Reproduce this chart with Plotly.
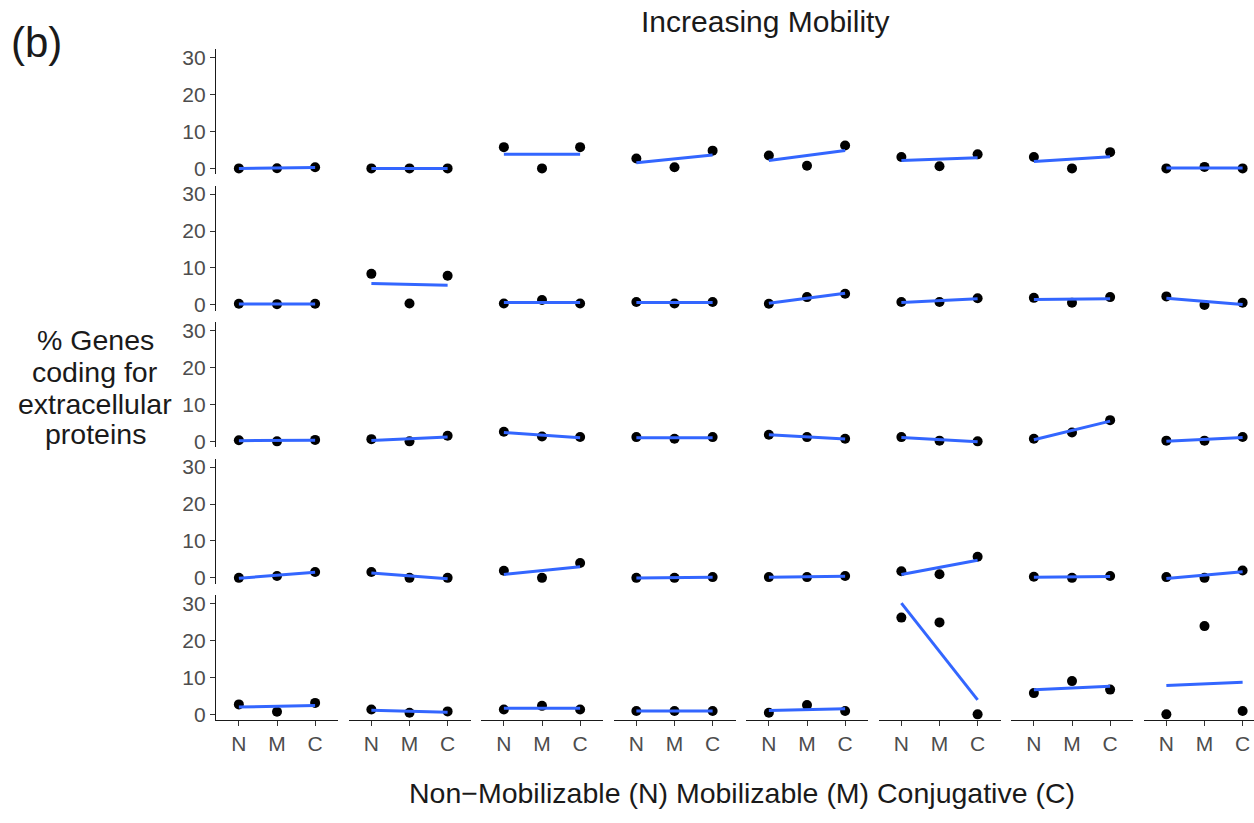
import numpy as np
import plotly.graph_objects as go

# Categories (mobility classes) on the x axis of every panel
categories = ["N", "M", "C"]
y_ticks = [0, 10, 20, 30]

# % genes coding for extracellular proteins: one [N, M, C] triple per panel, 8 panels per row
row1 = [[0.0, 0.05, 0.3], [0.0, 0.0, 0.0], [5.75, 0.0, 5.75], [2.7, 0.3, 4.8],
        [3.5, 0.7, 6.2], [3.1, 0.6, 3.8], [3.1, 0.0, 4.4], [0.0, 0.4, 0.0]]
row2 = [[0.3, 0.2, 0.3], [8.4, 0.35, 7.9], [0.35, 1.3, 0.35], [0.8, 0.35, 0.8],
        [0.3, 2.1, 3.0], [0.8, 0.8, 1.8], [1.9, 0.6, 2.1], [2.3, 0.0, 0.6]]
row3 = [[0.3, 0.0, 0.4], [0.6, 0.0, 1.5], [2.6, 1.3, 1.2], [1.15, 0.7, 1.15],
        [1.8, 1.15, 0.7], [1.15, 0.2, 0.0], [0.7, 2.4, 5.75], [0.2, 0.2, 1.2]]
row4 = [[0.0, 0.5, 1.6], [1.6, 0.0, 0.0], [1.9, 0.0, 4.0], [0.0, 0.0, 0.2],
        [0.2, 0.2, 0.5], [1.8, 1.0, 5.7], [0.3, 0.0, 0.5], [0.2, 0.0, 2.0]]
row5 = [[2.7, 0.7, 3.1], [1.3, 0.45, 0.8], [1.3, 2.3, 1.3], [0.9, 0.9, 0.9],
        [0.45, 2.5, 0.9], [26.2, 24.9, 0.0], [5.75, 9.0, 6.7], [0.0, 23.9, 0.9]]
rows = [row1, row2, row3, row4, row5]

y_title_lines = ["% Genes", "coding for", "extracellular", "proteins"]

W, H = 1254, 823
fig = go.Figure()

NR, NC = 5, 8
panel_left0, panel_step, panel_w = 216, 132.5, 122
panel_top0, row_step, panel_h = 47, 138, 126
x_per_unit = panel_w / 3.2
YR = [-1.55, 32.2]
FONT = "Liberation Sans"

layout = {}
k = 0
for r in range(NR):
    for c in range(NC):
        k += 1
        vals = rows[r][c]
        xs = [1, 2, 3]
        sfx = "" if k == 1 else str(k)
        # points
        fig.add_trace(go.Scatter(x=xs, y=vals, mode="markers",
                                 marker=dict(color="black", size=10),
                                 xaxis="x" + sfx, yaxis="y" + sfx,
                                 showlegend=False, hoverinfo="skip"))
        # linear fit (geom_smooth, method = lm)
        slope, icpt = np.polyfit(xs, vals, 1)
        xf = [1, 3]
        yf = [icpt + slope * v for v in xf]
        fig.add_trace(go.Scatter(x=xf, y=yf, mode="lines",
                                 line=dict(color="#3366FF", width=3),
                                 xaxis="x" + sfx, yaxis="y" + sfx,
                                 showlegend=False, hoverinfo="skip",
                                 cliponaxis=False))
        left = panel_left0 + panel_step * c
        right = left + panel_w
        xr = [0.4, 3.6]
        if right > W:
            xr = [0.4, 0.4 + (W - left) / x_per_unit]
            right = W
        top = panel_top0 + row_step * r
        bot = top + panel_h
        bottom_row = (r == NR - 1)
        first_col = (c == 0)
        layout["xaxis" + sfx] = dict(
            domain=[left / W, right / W], range=xr, anchor="y" + sfx,
            showgrid=False, zeroline=False,
            tickvals=[1, 2, 3], ticktext=categories,
            showticklabels=bottom_row, showline=bottom_row,
            ticks="outside" if bottom_row else "", ticklen=5, tickwidth=1.1,
            tickcolor="#333333", linecolor="#1a1a1a", linewidth=1.3,
            tickfont=dict(family=FONT, size=21, color="#4D4D4D"),
            fixedrange=True)
        layout["yaxis" + sfx] = dict(
            domain=[1 - bot / H, 1 - top / H], range=YR, anchor="x" + sfx,
            showgrid=False, zeroline=False,
            tickvals=y_ticks,
            showticklabels=first_col, showline=first_col,
            ticks="outside" if first_col else "", ticklen=5, tickwidth=1.1,
            tickcolor="#333333", linecolor="#1a1a1a", linewidth=1.3,
            tickfont=dict(family=FONT, size=21, color="#4D4D4D"),
            fixedrange=True)

font_main = dict(family=FONT, color="#1a1a1a")
annotations = [
    dict(text="(b)", x=9 / W, y=1 - 40 / H, xref="paper", yref="paper",
         xanchor="left", yanchor="middle", showarrow=False,
         font=dict(size=42, **font_main)),
    dict(text="Increasing Mobility", x=765 / W, y=1.0, xref="paper", yref="paper",
         xanchor="center", yanchor="top", showarrow=False,
         font=dict(size=30, **font_main)),
    dict(text="Non\u2212Mobilizable (N) Mobilizable (M) Conjugative (C)",
         x=742 / W, y=1 - 799 / H, xref="paper", yref="paper",
         xanchor="center", yanchor="middle", showarrow=False,
         font=dict(size=28.5, **font_main)),
]
for line_txt, ypx in zip(y_title_lines, [341, 373, 405, 436]):
    annotations.append(dict(text=line_txt, x=95 / W, y=1 - ypx / H,
                            xref="paper", yref="paper",
                            xanchor="center", yanchor="middle", showarrow=False,
                            font=dict(size=28.5, **font_main)))

fig.update_layout(width=W, height=H, margin=dict(l=0, r=0, t=0, b=0),
                  paper_bgcolor="white", plot_bgcolor="white",
                  annotations=annotations, showlegend=False, **layout)

fig.write_html("out.html")
